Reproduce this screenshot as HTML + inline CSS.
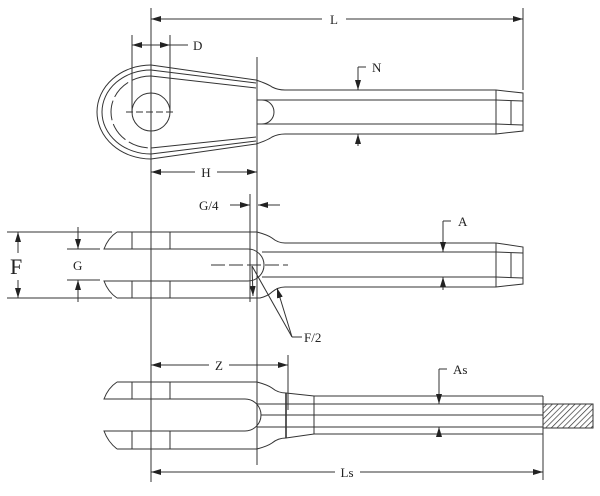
<!DOCTYPE html>
<html><head><style>html,body{margin:0;padding:0;background:#fff}svg{display:block}text{font-family:"Liberation Serif",serif;fill:#222}</style></head><body>
<svg width="600" height="496" viewBox="0 0 600 496" xmlns="http://www.w3.org/2000/svg">
<defs>
<marker id="a" viewBox="0 0 10 6" refX="10" refY="3" markerWidth="10" markerHeight="6" orient="auto-start-reverse" markerUnits="userSpaceOnUse"><path d="M0,0 L10,3 L0,6z" fill="#222"/></marker>
<pattern id="h" width="4" height="4" patternUnits="userSpaceOnUse" patternTransform="rotate(45)"><line x1="0" y1="0" x2="0" y2="4" stroke="#333" stroke-width="1.4"/></pattern>
</defs>
<g stroke="#333" stroke-width="1" fill="none">
<!-- extension lines -->
<line x1="151" y1="8" x2="151" y2="482"/>
<line x1="523" y1="8" x2="523" y2="90"/>
<line x1="257" y1="57" x2="257" y2="465"/>
<!-- L -->
<line x1="151" y1="19" x2="322" y2="19" marker-start="url(#a)"/>
<line x1="346" y1="19" x2="523" y2="19" marker-end="url(#a)"/>
<!-- D -->
<line x1="132" y1="35" x2="132" y2="112"/><line x1="170" y1="35" x2="170" y2="112"/>
<line x1="132" y1="45" x2="151" y2="45" marker-start="url(#a)"/>
<line x1="151" y1="45" x2="170" y2="45" marker-end="url(#a)"/>
<line x1="170" y1="45" x2="188" y2="45"/>
<!-- eye view -->
<path d="M151,65 L256,80 Q268,84 272,87 Q278,90 285,90 L496,90"/>
<path d="M151,70 L256,83"/>
<path d="M151,159 L256,144 Q268,140 272,137 Q278,134 285,134 L496,134"/>
<path d="M151,154 L256,141"/>
<path d="M151,65 A54,47 0 0 0 151,159"/>
<path d="M151,70 A49,42 0 0 0 151,154"/>
<path d="M151,76 A40,36 0 0 0 151,148" stroke-dasharray="20,4"/>
<line x1="151" y1="76" x2="256" y2="88"/>
<line x1="151" y1="148" x2="256" y2="137"/>
<circle cx="151" cy="112" r="19"/>
<line x1="126" y1="112" x2="176" y2="112" stroke-dasharray="7,3"/>
<line x1="151" y1="85" x2="151" y2="135" stroke-dasharray="7,3"/>
<path d="M257,100 L262,100 A12,12 0 0 1 262,124 L257,124"/>
<line x1="262" y1="100" x2="496" y2="100"/><line x1="262" y1="124" x2="496" y2="124"/>
<line x1="496" y1="90" x2="496" y2="134"/>
<path d="M496,90 L523,93 L523,131 L496,134"/>
<path d="M496,100 L523,101 M496,124 L523,125 M511,101 L511,125"/>
<!-- N -->
<path d="M358,67 L366,67"/>
<line x1="358" y1="67" x2="358" y2="90" marker-end="url(#a)"/>
<line x1="358" y1="146" x2="358" y2="134" marker-end="url(#a)"/>
<!-- H -->
<line x1="151" y1="172" x2="195" y2="172" marker-start="url(#a)"/>
<line x1="217" y1="172" x2="257" y2="172" marker-end="url(#a)"/>
<!-- middle view -->
<line x1="7" y1="232" x2="112" y2="232"/><line x1="7" y1="298" x2="112" y2="298"/>
<line x1="18" y1="232" x2="18" y2="253" marker-start="url(#a)"/>
<line x1="18" y1="280" x2="18" y2="298" marker-end="url(#a)"/>
<line x1="67" y1="249" x2="100" y2="249"/><line x1="67" y1="280" x2="100" y2="280"/>
<line x1="78" y1="227" x2="78" y2="249" marker-end="url(#a)"/>
<line x1="78" y1="302" x2="78" y2="280" marker-end="url(#a)"/>
<path d="M117,232 Q108,238 104,249 L248,249 A16,16 0 0 1 248,281 L104,281 Q108,292 117,298"/>
<path d="M117,232 L257,232 Q268,235 272,238 Q278,243 285,243 L496,243"/>
<path d="M117,298 L260,298 Q268,296 272,292 Q278,287 285,287 L496,287"/>
<line x1="132" y1="232" x2="132" y2="249"/><line x1="170" y1="232" x2="170" y2="249"/>
<line x1="132" y1="281" x2="132" y2="298"/><line x1="170" y1="281" x2="170" y2="298"/>
<line x1="262" y1="252" x2="496" y2="252"/><line x1="262" y1="277" x2="496" y2="277"/>
<line x1="211" y1="265" x2="288" y2="265" stroke-dasharray="14,4"/>
<line x1="250" y1="194" x2="250" y2="302"/>
<line x1="496" y1="243" x2="496" y2="287"/>
<path d="M496,243 L523,247 L523,284 L496,287"/>
<path d="M496,252 L523,253 M496,277 L523,278 M511,253 L511,278"/>
<!-- G/4 -->
<line x1="230" y1="205" x2="250" y2="205" marker-end="url(#a)"/>
<line x1="280" y1="205" x2="258" y2="205" marker-end="url(#a)"/>
<!-- A -->
<path d="M443,221 L451,221"/>
<line x1="443" y1="221" x2="443" y2="252" marker-end="url(#a)"/>
<line x1="443" y1="290" x2="443" y2="277" marker-end="url(#a)"/>
<!-- F/2 -->
<line x1="292" y1="337" x2="252" y2="266"/>
<line x1="292" y1="337" x2="277" y2="288" marker-end="url(#a)"/>
<line x1="292" y1="337" x2="302" y2="337"/>
<line x1="252" y1="266" x2="253" y2="296" marker-end="url(#a)"/>
<!-- bottom view -->
<line x1="288" y1="355" x2="288" y2="410"/>
<line x1="151" y1="365" x2="209" y2="365" marker-start="url(#a)"/>
<line x1="229" y1="365" x2="288" y2="365" marker-end="url(#a)"/>
<path d="M117,382 Q108,388 104,399 L245,399 A16,16 0 0 1 245,431 L104,431 Q108,442 117,449"/>
<path d="M117,382 L257,382 Q268,385 272,388 Q278,393 286,393 L314,396 L543,396"/>
<path d="M117,449 L257,449 Q268,446 272,443 Q278,438 286,438 L314,434 L543,434"/>
<line x1="132" y1="382" x2="132" y2="399"/><line x1="170" y1="382" x2="170" y2="399"/>
<line x1="132" y1="431" x2="132" y2="449"/><line x1="170" y1="431" x2="170" y2="449"/>
<line x1="286" y1="393" x2="286" y2="438" stroke-width="1.6"/>
<line x1="314" y1="396" x2="314" y2="434"/>
<line x1="257" y1="404" x2="543" y2="404"/><line x1="261" y1="415" x2="543" y2="415"/><line x1="257" y1="427" x2="543" y2="427"/>
<line x1="543" y1="396" x2="543" y2="480"/>
<rect x="543" y="404" width="50" height="24" fill="url(#h)"/>
<!-- As -->
<path d="M439,369 L447,369"/>
<line x1="439" y1="369" x2="439" y2="404" marker-end="url(#a)"/>
<line x1="439" y1="437" x2="439" y2="427" marker-end="url(#a)"/>
<!-- Ls -->
<line x1="151" y1="472" x2="335" y2="472" marker-start="url(#a)"/>
<line x1="360" y1="472" x2="543" y2="472" marker-end="url(#a)"/>
</g>
<g font-size="13">
<text x="334" y="24" text-anchor="middle">L</text>
<text x="193" y="50">D</text>
<text x="372" y="72">N</text>
<text x="206" y="177" text-anchor="middle">H</text>
<text x="199" y="210">G/4</text>
<text x="458" y="226">A</text>
<text x="73" y="270">G</text>
<text x="10" y="274" font-size="22">F</text>
<text x="304" y="342">F/2</text>
<text x="219" y="370" text-anchor="middle">Z</text>
<text x="453" y="374">As</text>
<text x="347" y="477" text-anchor="middle">Ls</text>
</g>
</svg>
</body></html>
